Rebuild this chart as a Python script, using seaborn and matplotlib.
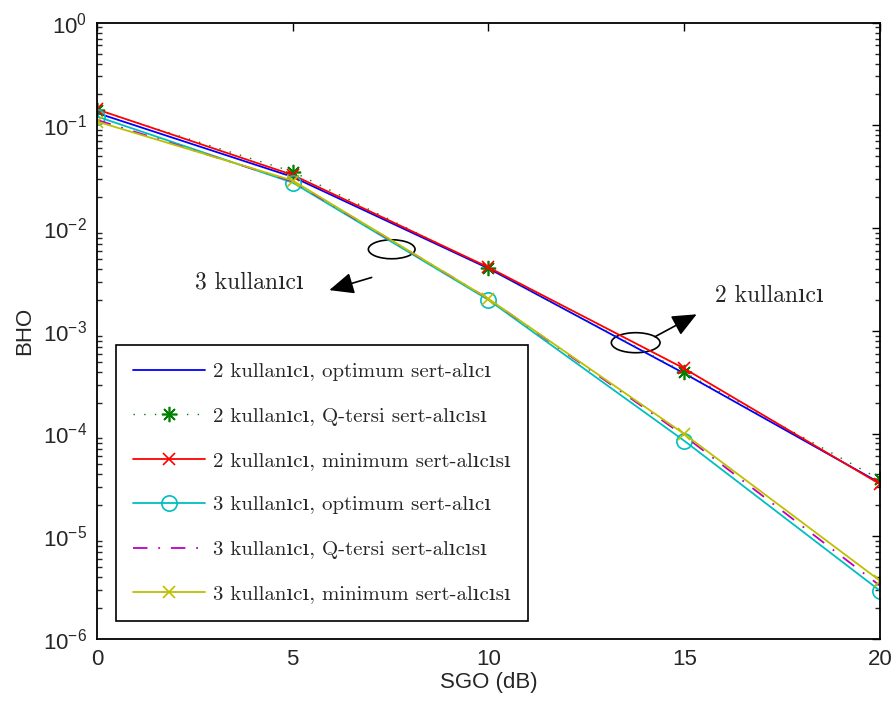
import matplotlib
matplotlib.use("Agg")
import matplotlib.pyplot as plt
from matplotlib.patches import Ellipse
from matplotlib.ticker import LogLocator, NullFormatter, FixedLocator
import numpy as np
import pandas as pd
import seaborn as sns

# SNR axis (dB)
snr_db = [0, 5, 10, 15, 20]

# Bit error rates, 2 users
ber_2_opt = [0.132, 0.0315, 0.00405, 3.85e-4, 3.30e-5]
ber_2_qinv = [0.141, 0.0354, 0.00405, 3.94e-4, 3.58e-5]
ber_2_min = [0.143, 0.0329, 0.00415, 4.30e-4, 3.22e-5]

# Bit error rates, 3 users
ber_3_opt = [0.122, 0.0277, 0.00200, 8.5e-5, 2.95e-6]
ber_3_qinv = [0.113, 0.0285, 0.00205, 9.5e-5, 3.30e-6]
ber_3_min = [0.109, 0.0290, 0.00205, 9.9e-5, 3.69e-6]

labels = [
    "2 kullanıcı, optimum sert-alıcı",
    "2 kullanıcı, Q-tersi sert-alıcısı",
    "2 kullanıcı, minimum sert-alıcısı",
    "3 kullanıcı, optimum sert-alıcı",
    "3 kullanıcı, Q-tersi sert-alıcısı",
    "3 kullanıcı, minimum sert-alıcısı",
]
series = [ber_2_opt, ber_2_qinv, ber_2_min, ber_3_opt, ber_3_qinv, ber_3_min]

y_major = [1e-6, 1e-5, 1e-4, 1e-3, 1e-2, 1e-1, 1e0]

sns.set_style("white")
plt.rcParams["font.family"] = ["Liberation Sans", "DejaVu Sans"]
plt.rcParams["xtick.direction"] = "in"
plt.rcParams["ytick.direction"] = "in"

styles = [
    dict(color=(0, 0, 1), linestyle="-", marker=None),
    dict(color=(0, 0.5, 0), linestyle=(0, (1, 6.7)), marker=(8, 2, 0), markersize=11),
    dict(color=(1, 0, 0), linestyle="-", marker="x", markersize=9),
    dict(color=(0, 0.75, 0.75), linestyle="-", marker="o", markersize=11,
         markerfacecolor="none"),
    dict(color=(0.75, 0, 0.75), linestyle=(0, (8, 6, 1, 6)), marker=None),
    dict(color=(0.75, 0.75, 0), linestyle="-", marker="x", markersize=9),
]

frames = []
for lab, vals in zip(labels, series):
    frames.append(pd.DataFrame({"SGO": snr_db, "BHO": vals, "seri": lab}))
df = pd.concat(frames, ignore_index=True)

fig = plt.figure(figsize=(8.94, 7.08), dpi=100)
ax = fig.add_axes([0.1085, 0.0975, 0.8758, 0.8705])

for lab, st in zip(labels, styles):
    sub = df[df["seri"] == lab]
    kw = dict(st)
    color = kw.pop("color")
    mk = kw.pop("marker")
    lw = 1.0 if lab.startswith("2 kullanıcı, Q") else 1.3
    extra = {}
    if mk is not None:
        extra = dict(marker=mk, markeredgecolor=color, markeredgewidth=1.2)
    sns.lineplot(data=sub, x="SGO", y="BHO", ax=ax, color=color, lw=lw,
                 label=lab, **kw, **extra)

ax.set_yscale("log")
ax.set_xlim(0, 20)
ax.set_ylim(1e-6, 1)
ax.xaxis.set_major_locator(FixedLocator(snr_db))
ax.yaxis.set_major_locator(FixedLocator(y_major))
minor = [m * 10.0 ** e for e in range(-6, 0) for m in range(2, 10)]
ax.yaxis.set_minor_locator(FixedLocator(minor))
ax.yaxis.set_minor_formatter(NullFormatter())
ax.tick_params(axis="both", which="major", labelsize=16, length=6, width=1.0,
               top=True, right=True, color="black", pad=7)
ax.tick_params(axis="y", which="minor", length=3.5, width=1.0, right=True, left=True)
for sp in ax.spines.values():
    sp.set_color("black")
    sp.set_linewidth(1.3)

ax.set_xlabel("SGO (dB)", fontsize=16, labelpad=2)
ax.set_ylabel("BHO", fontsize=16, labelpad=6)

serif = ["cmr10", "DejaVu Serif"]
leg = ax.legend(loc="lower left", bbox_to_anchor=(0.1294, 0.1229),
                bbox_transform=fig.transFigure, borderaxespad=0,
                prop={"family": serif, "size": 15}, frameon=True, fancybox=False,
                edgecolor="black", framealpha=1, handlelength=3.45,
                handletextpad=0.37, labelspacing=1.24, borderpad=0.85)
leg.get_frame().set_linewidth(1.2)

# group annotations
ax.add_patch(Ellipse((0.3764, 0.6323), 0.0596, 0.0308, transform=ax.transAxes,
                     fill=False, edgecolor="black", lw=1.2))
ax.add_patch(Ellipse((0.688, 0.4807), 0.0622, 0.0325, transform=ax.transAxes,
                     fill=False, edgecolor="black", lw=1.2))
arrow = dict(arrowstyle="-|>,head_length=0.75,head_width=0.33", color="black",
             lw=1.2, mutation_scale=20, shrinkA=0, shrinkB=0)
ax.annotate("", xy=(0.2967, 0.5660), xytext=(0.3508, 0.5866),
            xycoords="axes fraction", textcoords="axes fraction", arrowprops=arrow)
ax.annotate("", xy=(0.7659, 0.5268), xytext=(0.7126, 0.4904),
            xycoords="axes fraction", textcoords="axes fraction", arrowprops=arrow)
ax.text(0.1252, 0.5793, "3 kullanıcı", transform=ax.transAxes, ha="left",
        va="center", family=serif, fontsize=17)
ax.text(0.7893, 0.5566, "2 kullanıcı", transform=ax.transAxes, ha="left",
        va="center", family=serif, fontsize=17)

fig.savefig("out.png", dpi=100)
